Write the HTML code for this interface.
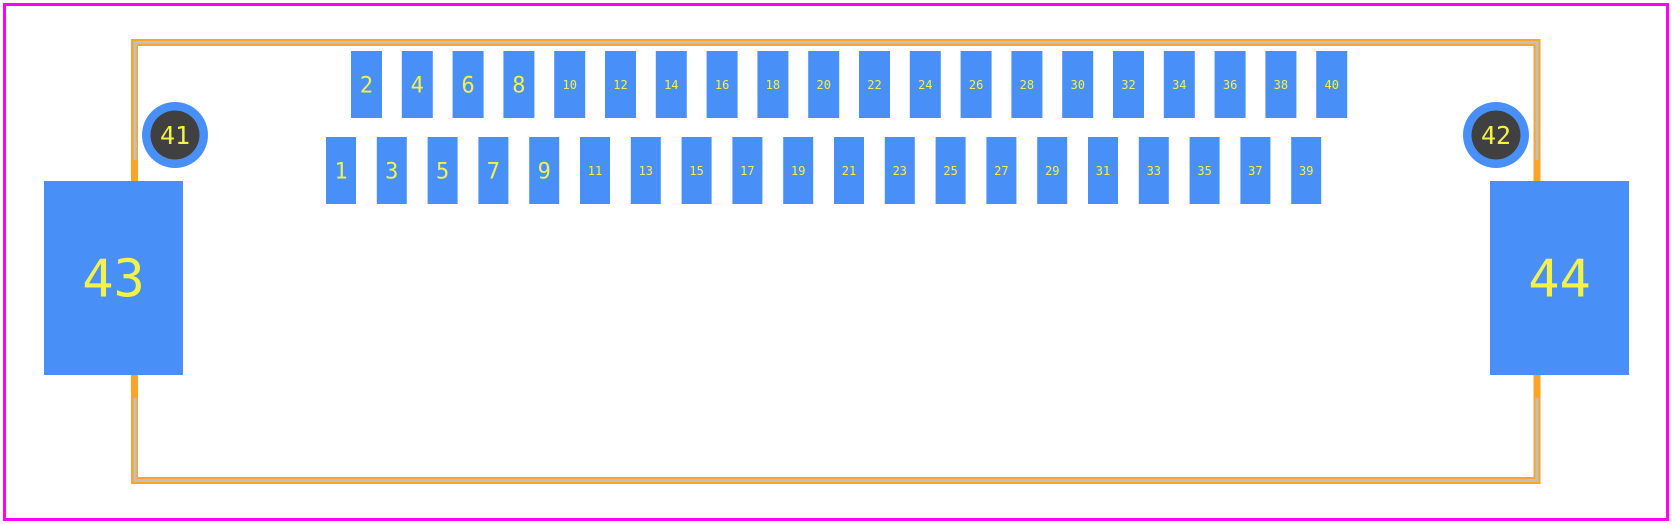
<!DOCTYPE html>
<html><head><meta charset="utf-8"><style>
html,body{margin:0;padding:0;background:#fff;}
svg{display:block;}
text{font-family:"DejaVu Sans Mono","Liberation Mono",monospace;fill:#f2f24a;}
</style></head><body>
<svg id="fp" width="1672" height="524" viewBox="0 0 1672 524" xmlns="http://www.w3.org/2000/svg">
<rect x="4.5" y="4.5" width="1663" height="515" fill="none" stroke="#ff00ff" stroke-width="3"/>
<rect x="134.5" y="42.5" width="1402.5" height="438" fill="none" stroke="#f9a42a" stroke-width="7"/>
<g stroke="#c0c0c0" stroke-width="3" fill="none">
<path d="M135 160 V42.5 H1537 V160"/>
<path d="M135 398 V480.5 H1537 V398"/>
</g>
<g id="pads"></g>
</svg>
<script>
const topPins=[2,4,6,8,10,12,14,16,18,20,22,24,26,28,30,32,34,36,38,40];
const bottomPins=[1,3,5,7,9,11,13,15,17,19,21,23,25,27,29,31,33,35,37,39];
const pitch=50.8;
const g=document.getElementById('pads');
const NS='http://www.w3.org/2000/svg';
function pad(x,y,w,h,label,fs,name){
  const r=document.createElementNS(NS,'rect');
  r.setAttribute('x',x);r.setAttribute('y',y);r.setAttribute('width',w);r.setAttribute('height',h);
  r.setAttribute('fill','#4890f8');
  
  
  g.appendChild(r);
  const t=document.createElementNS(NS,'text');
  t.setAttribute('x',x+w/2);t.setAttribute('y',y+h/2+fs*0.36);
  t.setAttribute('text-anchor','middle');t.setAttribute('font-size',fs);
  t.textContent=label;
  
  
  g.appendChild(t);
}
topPins.forEach((p,i)=>pad(351+i*pitch,51,31,67,p,p<10?22:12,'pad-'+p));
bottomPins.forEach((p,i)=>pad(326+i*pitch,137,30,67,p,p<10?22:12,'pad-'+p));
pad(44,181,139,194,'43',52,'pad-43');
pad(1490,181,139,194,'44',52,'pad-44');
[[175,135,'41'],[1496,135,'42']].forEach(([cx,cy,l])=>{
  const o=document.createElementNS(NS,'circle');
  o.setAttribute('cx',cx);o.setAttribute('cy',cy);o.setAttribute('r',33);o.setAttribute('fill','#4890f8');
  
  
  g.appendChild(o);
  const i=document.createElementNS(NS,'circle');
  i.setAttribute('cx',cx);i.setAttribute('cy',cy);i.setAttribute('r',24.5);i.setAttribute('fill','#404040');
  
  
  g.appendChild(i);
  const t=document.createElementNS(NS,'text');
  t.setAttribute('x',cx);t.setAttribute('y',cy+9);t.setAttribute('text-anchor','middle');t.setAttribute('font-size',25);
  t.textContent=l;
  
  
  g.appendChild(t);
});
</script>
</body></html>
